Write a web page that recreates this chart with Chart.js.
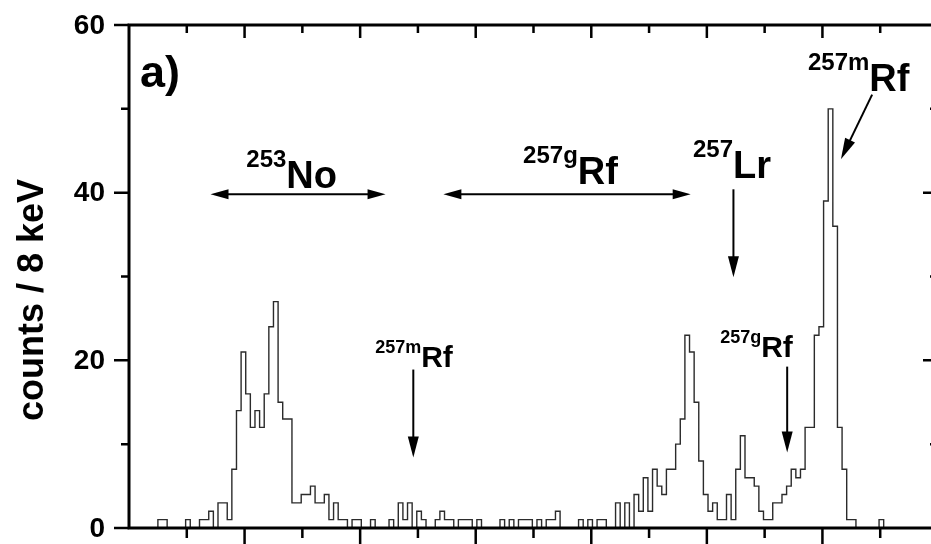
<!DOCTYPE html>
<html>
<head>
<meta charset="utf-8">
<script src="https://cdn.jsdelivr.net/npm/chart.js@4.4.1/dist/chart.umd.min.js"></script>
<style>
html, body { margin: 0; padding: 0; background: #fff; overflow: hidden; }
#wrap { width: 960px; height: 544px; }
</style>
</head>
<body>
<div id="wrap"><canvas id="myChart" width="960" height="544"></canvas></div>
<script>
// alpha spectrum, 8 keV bins
var binStart = 7802;
var binWidth = 8;
var counts = [
	0,0,0,0,0,0,1,1,0,0,
	0,0,1,0,0,1,1,2,0,3,
	3,1,7,14,21,16,12,14,12,16,
	24,27,15,13,13,3,3,4,4,5,
	3,3,4,1,3,1,1,0,1,1,
	0,0,1,0,0,0,1,0,3,1,
	3,0,2,1,0,0,1,2,1,1,
	0,1,1,1,0,1,0,0,0,0,
	1,0,1,0,1,1,1,0,1,0,
	1,1,2,0,0,0,0,1,0,1,
	0,1,1,0,0,3,0,3,0,4,
	2,6,2,7,5,4,7,7,10,13,
	23,21,15,8,4,2,3,1,1,4,
	1,7,11,6,6,5,2,1,1,3,
	3,4,5,7,6,7,12,12,23,24,
	39,50,36,12,7,1,1,0,0,0,
	0,0,1,0,0,0,0,0,0,0,
	0,0,0,0
];
var xRange = [7800, 9200];
var xMajor = 200, xMinor = 100;
var yTicks = [0, 20, 40, 60];
var yMinor = [10, 30, 50];
var yTitle = 'counts / 8 keV';

// isotope labels: superscript, symbol, position in keV / counts
var isoLabels = [
	{ sup: '253', el: 'No', x: 8003, y: 40.6, big: true },
	{ sup: '257g', el: 'Rf', x: 8482, y: 41.0, big: true },
	{ sup: '257', el: 'Lr', x: 8776, y: 41.8, big: true },
	{ sup: '257m', el: 'Rf', x: 8975, y: 52.1, big: true },
	{ sup: '257m', el: 'Rf', x: 8226, y: 19.2, big: false },
	{ sup: '257g', el: 'Rf', x: 8823, y: 20.4, big: false }
];
var rangeArrows = [
	{ from: 7941, to: 8244, y: 39.8 },
	{ from: 8344, to: 8772, y: 39.8 }
];
var pointArrows = [
	{ x1: 8846, y1: 40.4, x2: 8846, y2: 29.9 },
	{ x1: 8292, y1: 18.9, x2: 8292, y2: 8.4 },
	{ x1: 8939, y1: 19.25, x2: 8939, y2: 9.0 },
	{ x1: 9086, y1: 51.7, x2: 9032, y2: 44.0 }
];

var points = [{ x: xRange[0], y: 0 }];
for (var i = 0; i < counts.length; i++) {
	points.push({ x: binStart + i * binWidth, y: counts[i] });
}
points.push({ x: binStart + counts.length * binWidth, y: 0 });

var font = '"Liberation Sans", Arial, sans-serif';

function arrowHead(ctx, x1, y1, x2, y2, len, half) {
	var ang = Math.atan2(y2 - y1, x2 - x1);
	ctx.beginPath();
	ctx.moveTo(x2, y2);
	ctx.lineTo(x2 - len * Math.cos(ang) + half * Math.sin(ang), y2 - len * Math.sin(ang) - half * Math.cos(ang));
	ctx.lineTo(x2 - len * Math.cos(ang) - half * Math.sin(ang), y2 - len * Math.sin(ang) + half * Math.cos(ang));
	ctx.closePath();
	ctx.fill();
}

var framePlugin = {
	id: 'frame',
	afterDraw: function(chart) {
		var ctx = chart.ctx, a = chart.chartArea;
		var sx = chart.scales.x, sy = chart.scales.y;
		ctx.save();
		ctx.strokeStyle = '#000';
		ctx.fillStyle = '#000';
		ctx.lineWidth = 3;
		ctx.strokeRect(a.left, a.top, a.right - a.left, a.bottom - a.top);

		ctx.lineWidth = 2.5;
		ctx.beginPath();
		for (var v = xRange[0] + xMinor; v < xRange[1]; v += xMinor) {
			var px = sx.getPixelForValue(v);
			var major = (v - xRange[0]) % xMajor === 0;
			ctx.moveTo(px, a.bottom);
			ctx.lineTo(px, a.bottom + (major ? 17 : 10));
			ctx.moveTo(px, a.top);
			ctx.lineTo(px, a.top + (major ? 13 : 8));
		}
		yTicks.concat(yMinor).forEach(function(t) {
			var py = sy.getPixelForValue(t);
			var len = yMinor.indexOf(t) >= 0 ? 8 : 15;
			ctx.moveTo(a.left - len, py);
			ctx.lineTo(a.left, py);
			if (t !== 0 && t !== 60) {
				ctx.moveTo(a.right - len, py);
				ctx.lineTo(a.right, py);
			}
		});
		ctx.stroke();

		// tick labels
		ctx.font = 'bold 28px ' + font;
		ctx.textAlign = 'right';
		ctx.textBaseline = 'middle';
		yTicks.forEach(function(t) {
			ctx.fillText(String(t), a.left - 24, sy.getPixelForValue(t) + 1);
		});

		// axis title
		ctx.save();
		ctx.translate(43, 300);
		ctx.rotate(-Math.PI / 2);
		ctx.font = 'bold 36px ' + font;
		ctx.textAlign = 'center';
		ctx.textBaseline = 'alphabetic';
		ctx.fillText(yTitle, 0, 0);
		ctx.restore();

		// panel letter
		ctx.textAlign = 'left';
		ctx.textBaseline = 'alphabetic';
		ctx.font = 'bold 45px ' + font;
		ctx.fillText('a)', sx.getPixelForValue(7819), sy.getPixelForValue(52.6));

		// isotope labels
		isoLabels.forEach(function(l) {
			var px = sx.getPixelForValue(l.x), py = sy.getPixelForValue(l.y);
			var supSize = l.big ? 24 : 18, elSize = l.big ? 38 : 30, rise = l.big ? 21 : 14;
			ctx.font = 'bold ' + supSize + 'px ' + font;
			ctx.fillText(l.sup, px, py - rise);
			var w = ctx.measureText(l.sup).width;
			ctx.font = 'bold ' + elSize + 'px ' + font;
			ctx.fillText(l.el, px + w, py);
		});

		// arrows
		ctx.lineWidth = 2;
		rangeArrows.forEach(function(r) {
			var x1 = sx.getPixelForValue(r.from), x2 = sx.getPixelForValue(r.to), py = sy.getPixelForValue(r.y);
			ctx.beginPath();
			ctx.moveTo(x1 + 8, py);
			ctx.lineTo(x2 - 8, py);
			ctx.stroke();
			arrowHead(ctx, x2, py, x1, py, 18, 5);
			arrowHead(ctx, x1, py, x2, py, 18, 5);
		});
		pointArrows.forEach(function(r) {
			var x1 = sx.getPixelForValue(r.x1), y1 = sy.getPixelForValue(r.y1);
			var x2 = sx.getPixelForValue(r.x2), y2 = sy.getPixelForValue(r.y2);
			var ang = Math.atan2(y2 - y1, x2 - x1);
			ctx.beginPath();
			ctx.moveTo(x1, y1);
			ctx.lineTo(x2 - 10 * Math.cos(ang), y2 - 10 * Math.sin(ang));
			ctx.stroke();
			arrowHead(ctx, x1, y1, x2, y2, 21, 5.5);
		});
		ctx.restore();
	}
};

var chart = new Chart(document.getElementById('myChart').getContext('2d'), {
	type: 'line',
	data: {
		datasets: [{
			data: points,
			stepped: 'before',
			borderColor: '#2b2b2b',
			borderWidth: 1.4,
			pointRadius: 0,
			fill: false
		}]
	},
	options: {
		responsive: false,
		animation: false,
		layout: { padding: { left: 0, right: 22, top: 25, bottom: 0 } },
		plugins: { legend: { display: false }, tooltip: { enabled: false } },
		scales: {
			x: {
				type: 'linear',
				min: xRange[0],
				max: xRange[1],
				ticks: { display: false },
				grid: { display: false, drawTicks: false },
				border: { display: false },
				afterFit: function(s) { s.height = 16; }
			},
			y: {
				min: 0,
				max: 60,
				ticks: { display: false },
				grid: { display: false, drawTicks: false },
				border: { display: false },
				afterFit: function(s) { s.width = 129; }
			}
		}
	},
	plugins: [framePlugin]
});
</script>
</body>
</html>
